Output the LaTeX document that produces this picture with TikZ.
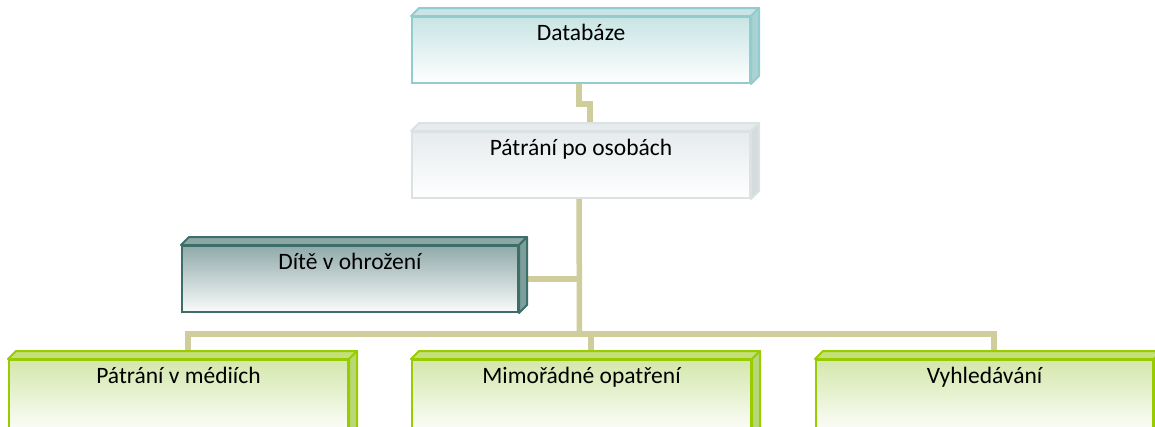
\documentclass[tikz,border=0pt]{standalone}
\usepackage{fontspec}
\setmainfont{Carlito}
\usetikzlibrary{calc}
\pgfdeclarelayer{bg}
\pgfsetlayers{bg,main}
\definecolor{conncol}{RGB}{206,205,155}
\definecolor{dbline}{RGB}{146,204,204}
\definecolor{dbfill}{RGB}{200,228,228}
\definecolor{dbside}{RGB}{170,210,210}
\definecolor{ppline}{RGB}{220,226,228}
\definecolor{ppfill}{RGB}{230,235,237}
\definecolor{ppside}{RGB}{214,220,222}
\definecolor{dtline}{RGB}{62,110,106}
\definecolor{dtfill}{RGB}{145,170,170}
\definecolor{dttop}{RGB}{140,168,165}
\definecolor{dtside}{RGB}{125,158,155}
\definecolor{grline}{RGB}{153,204,0}
\definecolor{grfill}{RGB}{212,231,172}
\definecolor{grtop}{RGB}{196,224,120}
\definecolor{grside}{RGB}{185,215,120}
\newcommand{\depthfaces}[4]{%
  \filldraw[draw=#4, fill=#2, line width=2pt, line join=round]
    (#1.north west) -- ++(8pt,8pt) -- ([shift={(8pt,8pt)}]#1.north east) -- (#1.north east) -- cycle;
  \filldraw[draw=#4, fill=#3, line width=2pt, line join=round]
    (#1.north east) -- ++(8pt,8pt) -- ([shift={(8pt,8pt)}]#1.south east) -- (#1.south east) -- cycle;}
\tikzset{
  conn/.style={draw=conncol, line width=5.5pt},
  boxbase/.style={rectangle, line width=2pt, inner sep=0pt, minimum height=66pt,
    text height=23pt, text depth=43pt, align=center,
    font=\fontsize{23.5}{27}\selectfont},
  tallbox/.style={minimum height=74pt, text depth=51pt},
  dbbox/.style={boxbase, draw=dbline, top color=dbfill, middle color=dbfill!65!white, bottom color=white},
  ppbox/.style={boxbase, draw=ppline, top color=ppfill, middle color=ppfill!65!white, bottom color=white},
  dtbox/.style={boxbase, draw=dtline, top color=dtfill, middle color=dtfill!60!white, bottom color=white!95!dtfill},
  grbox/.style={boxbase, draw=grline, top color=grfill, middle color=grfill!65!white, bottom color=white!97!grfill},
}
\begin{document}
\begin{tikzpicture}[x=1pt, y=-1pt]
\useasboundingbox (0,0) rectangle (1155,426);
\clip (0,0) rectangle (1155,426);
\node[dbbox, minimum width=338pt] (db) at (581,50) {Databáze};
\depthfaces{db}{dbfill}{dbside}{dbline}
\node[ppbox, minimum width=338pt] (pp) at (581,165) {Pátrání po osobách};
\depthfaces{pp}{ppfill}{ppside}{ppline}
\node[dtbox, minimum width=336pt] (dite) at (350,279) {Dítě v ohrožení};
\depthfaces{dite}{dttop}{dtside}{dtline}
\node[grbox, tallbox, minimum width=339pt] (b1) at (178.5,397) {Pátrání v médiích};
\depthfaces{b1}{grtop}{grside}{grline}
\node[grbox, tallbox, minimum width=339pt] (b2) at (581.5,397) {Mimořádné opatření};
\depthfaces{b2}{grtop}{grside}{grline}
\node[grbox, tallbox, minimum width=337pt] (b3) at (984.5,397) {Vyhledávání};
\depthfaces{b3}{grtop}{grside}{grline}
\coordinate (busc) at ([xshift=-2pt,yshift=25pt]b2.north);
\begin{pgfonlayer}{bg}
\draw[conn] ([xshift=-2pt]db.south) -- ++(0pt,-20pt) -| ([xshift=9pt]pp.north);
\draw[conn] ([xshift=-2pt]pp.south) -- (busc);
\draw[conn] ([xshift=-4pt]dite.east) -- (dite.east -| busc);
\draw[conn] ([xshift=9.5pt]b1.north) -- ++(0pt,25pt) -| ([xshift=9.5pt]b3.north);
\draw[conn] ([xshift=9.5pt]b2.north) -- ++(0pt,25pt);
\end{pgfonlayer}
\end{tikzpicture}
\end{document}
